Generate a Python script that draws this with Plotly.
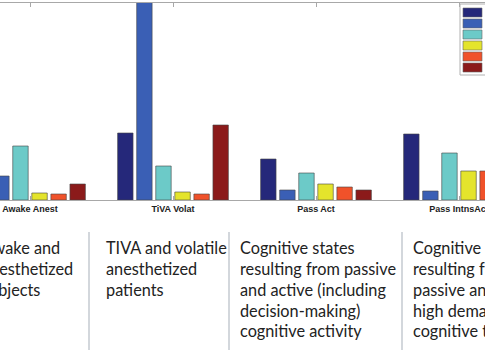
import plotly.graph_objects as go

CATEGORIES = ["Awake Anest", "TiVA Volat", "Pass Act", "Pass IntnsAct"]
SERIES = ["Series 1", "Series 2", "Series 3", "Series 4", "Series 5", "Series 6"]
S1 = [None, 67, 41, 66]
S2 = [24, 230, 10, 9]
S3 = [54, 34, 27, 47]
S4 = [7, 8, 16, 29]
S5 = [6, 6, 13, 29]
S6 = [16, 75, 10, None]
VALUES = [S1, S2, S3, S4, S5, S6]
COLORS = ["#25287a", "#3a5fb5", "#6ccac8", "#e4e42c", "#f0522a", "#8b1a1a"]
DESCRIPTIONS = [
    ["Awake and", "anesthetized", "subjects"],
    ["TIVA and volatile", "anesthetized", "patients"],
    ["Cognitive states", "resulting from passive", "and active (including",
     "decision-making)", "cognitive activity"],
    ["Cognitive states", "resulting from", "passive and", "high demand", "cognitive tasks"],
]

W, H = 485, 360
TOP, BASE = 3, 200
x_idx = list(range(len(CATEGORIES)))
px_per_cat = 143.0
x0_px = 30.0

fig = go.Figure()
for name, vals, col in zip(SERIES, VALUES, COLORS):
    fig.add_trace(go.Bar(x=x_idx, y=vals, name=name, marker_color=col,
                         marker_line=dict(color="#444444", width=0.6), showlegend=False))

def px_x(p):
    return p / W

def px_y(p):
    return (BASE - p) / (BASE - TOP)

shapes = []
# legend box and swatches (legend text falls outside the crop)
shapes.append(dict(type="rect", xref="paper", yref="paper", x0=px_x(460), x1=px_x(520),
                   y0=px_y(75), y1=px_y(4), line=dict(color="#b0b0b0", width=1), fillcolor="white"))
for i, col in enumerate(COLORS):
    top = 8 + i * 11
    shapes.append(dict(type="rect", xref="paper", yref="paper", x0=px_x(463), x1=px_x(482),
                       y0=px_y(top + 9), y1=px_y(top), line=dict(color="#666666", width=0.6),
                       fillcolor=col))
# separators between descriptions
for sx in [89, 229, 402]:
    shapes.append(dict(type="line", xref="paper", yref="paper", x0=px_x(sx), x1=px_x(sx),
                       y0=px_y(350), y1=px_y(232), line=dict(color="#c5cad0", width=1.5)))

annotations = []
FS = 16.3
LINE = 20.8
FIRST_BASELINE = 253.0
for lines, left in zip(DESCRIPTIONS, [-19, 105, 239, 412]):
    for k, ln in enumerate(lines):
        base = FIRST_BASELINE + k * LINE
        annotations.append(dict(text=ln, xref="paper", yref="paper", x=px_x(left),
                                y=px_y(base - 0.32 * FS), xanchor="left", yanchor="middle",
                                align="left", showarrow=False, borderpad=0,
                                font=dict(family="Lato", size=FS, color="#222222")))

fig.update_layout(
    width=W, height=H,
    margin=dict(l=0, r=0, t=TOP, b=H - BASE),
    paper_bgcolor="white", plot_bgcolor="white",
    barmode="group", bargap=0.2, bargroupgap=0.19,
    xaxis=dict(range=[-x0_px / px_per_cat, (W - x0_px) / px_per_cat],
               tickvals=x_idx, ticktext=CATEGORIES, automargin=False,
               ticklabeloverflow="allow",
               showline=True, linecolor="#a8a8a8", linewidth=1, mirror="ticks",
               ticks="inside", ticklen=4, tickcolor="#a8a8a8",
               tickfont=dict(family="Arial", size=9, color="#222222", weight="bold"),
               showgrid=False, zeroline=False),
    yaxis=dict(range=[0, BASE - TOP], visible=False, showgrid=False, zeroline=False,
               automargin=False),
    shapes=shapes, annotations=annotations,
)

fig.write_html("out.html", config={"displayModeBar": False},
               post_script="document.body.style.margin='0';document.body.style.overflow='hidden';")
